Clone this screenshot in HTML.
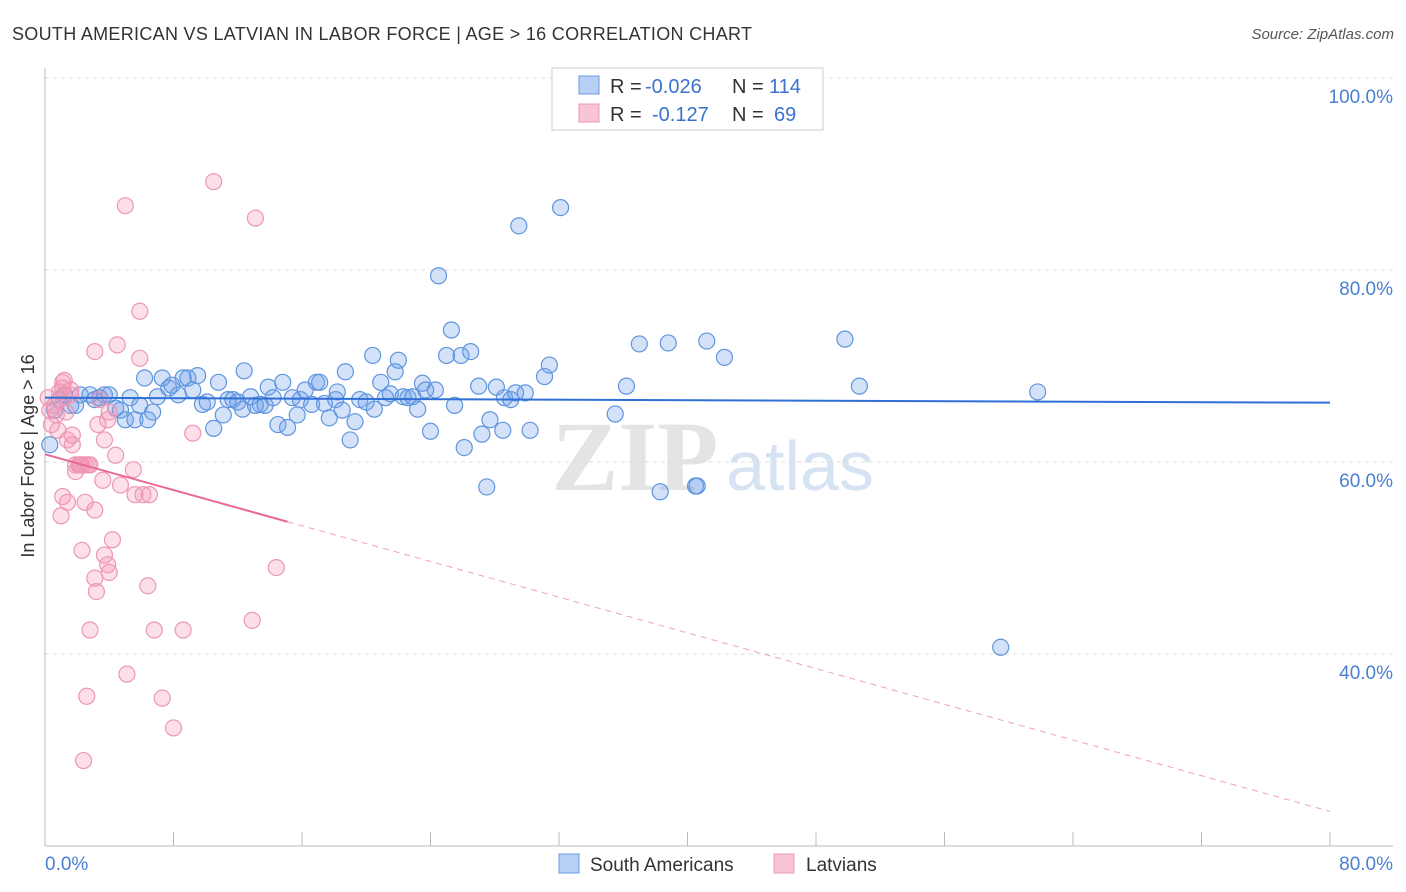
<!DOCTYPE html>
<html><head><meta charset="utf-8"><style>
body{margin:0;background:#fff;font-family:"Liberation Sans",sans-serif;}
#c{position:relative;width:1406px;height:892px;overflow:hidden}
</style></head><body><div id="c">
<svg id="s" width="1406" height="892" xmlns="http://www.w3.org/2000/svg">
<text x="12" y="40" font-size="18" fill="#333" textLength="740">SOUTH AMERICAN VS LATVIAN IN LABOR FORCE | AGE &gt; 16 CORRELATION CHART</text>
<text x="1394" y="39" font-size="15" fill="#555" font-style="italic" text-anchor="end">Source: ZipAtlas.com</text>
<text x="635" y="490" font-size="100" fill="#e4e4e4" font-family="Liberation Serif" font-weight="bold" text-anchor="middle">ZIP</text>
<text x="800" y="490" font-size="70" fill="#d6e3f3" text-anchor="middle">atlas</text>
<g id="grid"></g><g id="pts"></g><g id="trend"></g>
<text transform="translate(34,456) rotate(-90)" font-size="18" fill="#333" text-anchor="middle">In Labor Force | Age &gt; 16</text>
<text x="45" y="870" font-size="19" fill="#4a7fd4">0.0%</text>
<text x="1393" y="870" font-size="19" fill="#4a7fd4" text-anchor="end">80.0%</text>
<g>
<rect x="552" y="68" width="271" height="62" fill="#fff" stroke="#ccc"/>
<rect x="579" y="76" width="20" height="18" fill="#b8d0f3" stroke="#6a9be0"/>
<rect x="579" y="104" width="20" height="18" fill="#f9c4d4" stroke="#ec9ab5"/>
<text x="610" y="93" font-size="20" fill="#333">R =</text>
<text x="645" y="93" font-size="20" fill="#3a72d0">-0.026</text>
<text x="732" y="93" font-size="20" fill="#333">N =</text>
<text x="769" y="93" font-size="20" fill="#3a72d0">114</text>
<text x="610" y="121" font-size="20" fill="#333">R =</text>
<text x="652" y="121" font-size="20" fill="#3a72d0">-0.127</text>
<text x="732" y="121" font-size="20" fill="#333">N =</text>
<text x="774" y="121" font-size="20" fill="#3a72d0">69</text>
</g>
<g>
<rect x="559" y="854" width="20" height="19" fill="#b8d0f3" stroke="#6a9be0"/>
<text x="590" y="871" font-size="19" fill="#333">South Americans</text>
<rect x="774" y="854" width="20" height="19" fill="#f9c4d4" stroke="#ec9ab5"/>
<text x="806" y="871" font-size="19" fill="#333">Latvians</text>
</g>
</svg>
<script>
const yTicks=[100,80,60,40];
const blueX=[.3,.6,.9,1.2,1.6,1.9,2.2,2.8,3.1,3.4,3.7,4.0,4.4,4.7,5.0,5.3,5.6,5.9,6.2,6.4,6.7,7.0,7.3,7.7,7.9,8.3,8.6,8.9,9.2,9.5,9.8,10.1,10.5,10.8,11.1,11.4,11.7,12.0,12.3,12.4,12.8,13.1,13.4,13.7,13.9,14.2,14.5,14.8,15.1,15.4,15.7,15.9,16.2,16.6,16.9,17.1,17.4,17.7,18.1,18.2,18.5,18.7,19.0,19.3,19.6,20.0,20.4,20.5,20.9,21.2,21.5,21.8,22.0,22.3,22.6,22.9,23.2,23.5,23.7,24.0,24.3,24.5,25.0,25.3,25.5,25.9,26.1,26.5,27.0,27.2,27.5,27.7,28.1,28.5,28.6,29.0,29.3,29.5,29.9,30.2,31.1,31.4,32.1,35.5,36.2,37.0,38.3,38.8,40.5,40.6,41.2,42.3,49.8,50.7,59.5,61.8];
const blueY=[61.8,65.4,66.5,67.0,65.9,65.9,67.0,67.0,66.5,66.7,67.0,67.0,65.6,65.4,64.4,66.7,64.4,65.9,68.75,64.4,65.2,66.8,68.75,67.7,68.0,67.0,68.75,68.75,67.5,69.0,66.0,66.25,63.5,68.3,64.9,66.5,66.5,66.25,65.5,69.5,66.8,65.9,66.0,65.9,67.8,66.7,63.9,68.3,63.6,66.7,64.9,66.5,67.5,66.0,68.3,68.3,66.1,64.6,66.5,67.3,65.4,69.4,62.3,64.2,66.5,66.25,71.1,65.5,68.3,66.7,67.1,69.4,70.6,66.8,66.7,66.8,65.5,68.2,67.5,63.2,67.5,79.4,71.1,73.75,65.9,71.1,61.5,71.5,67.9,62.9,57.4,64.4,67.8,63.3,66.7,66.5,67.2,84.6,67.2,63.3,68.9,70.1,86.5,65.0,67.9,72.3,56.9,72.4,57.5,57.5,72.6,70.9,72.8,67.9,40.7,67.3];
const pinkX=[.2,.3,.4,.6,.7,.8,.9,1.1,1.1,1.2,1.3,1.4,1.6,1.7,1.7,1.9,1.9,2.1,2.2,2.3,2.5,2.7,2.8,3.1,3.3,3.4,3.6,3.7,3.9,4.0,4.4,4.5,4.7,5.0,5.5,5.6,5.9,5.9,6.1,6.4,6.5,6.8,7.3,8.0,8.6,9.2,10.5,12.9,13.1,14.4,1.0,1.1,1.4,2.3,2.5,3.1,3.7,3.9,4.0,4.2,3.1,3.2,2.8,2.6,2.4,5.1,1.2,1.6];
const pinkY=[66.7,65.4,63.9,65.9,64.9,63.3,67.3,67.7,68.3,66.7,65.2,62.3,67.5,61.8,62.8,59.0,59.7,59.7,59.7,59.7,59.7,59.7,59.7,71.5,63.9,66.5,58.1,62.3,64.4,65.2,60.7,72.2,57.6,86.7,59.2,56.6,75.7,70.8,56.6,47.1,56.6,42.5,35.4,32.3,42.5,63.0,89.2,43.5,85.4,49.0,54.4,56.4,55.8,50.8,55.8,55.0,50.3,49.3,48.5,51.9,47.9,46.5,42.5,35.6,28.9,37.9,68.5,67.0];
const blueTrend=[66.7,-0.0065];
const pinkTrend=[60.8,-0.465];
const pinkSolidEnd=15.1;
const NS='http://www.w3.org/2000/svg';
const X=v=>45+v*(1285/80), Y=v=>846-(v-20)*9.6;
function mk(t,a,p){const e=document.createElementNS(NS,t);for(const k in a)e.setAttribute(k,a[k]);p.appendChild(e);return e;}
const g=document.getElementById('grid');
yTicks.forEach(t=>{
 const l=mk('line',{x1:45,x2:1393,y1:Y(t),y2:Y(t),stroke:'#ddd','stroke-dasharray':'4,4'},g);
 
 
 const tx=mk('text',{x:1393,y:Y(t)+25,'font-size':19,fill:'#4a7fd4','text-anchor':'end'},g);tx.textContent=t.toFixed(1)+'%';
 
 
});
mk('line',{x1:45,x2:45,y1:68,y2:846,stroke:'#bbb'},g);
mk('line',{x1:45,x2:1393,y1:846,y2:846,stroke:'#bbb'},g);
for(let i=0;i<=10;i++){const t=mk('line',{x1:X(i*8),x2:X(i*8),y1:832,y2:846,stroke:'#bbb'},g);
 
 }
const p=document.getElementById('pts');
blueX.forEach((x,i)=>{const c=mk('circle',{cx:X(x),cy:Y(blueY[i]),r:8,fill:'rgba(110,160,235,0.3)',stroke:'#5f95dd','stroke-width':1.2},p);
 
 });
pinkX.forEach((x,i)=>{const c=mk('circle',{cx:X(x),cy:Y(pinkY[i]),r:8,fill:'rgba(245,150,180,0.3)',stroke:'#ec97b4','stroke-width':1.2},p);
 
 });
const tr=document.getElementById('trend');
const bl=mk('line',{x1:X(0),y1:Y(blueTrend[0]),x2:X(80),y2:Y(blueTrend[0]+blueTrend[1]*80),stroke:'#2f6fd6','stroke-width':2},tr);


const ps=mk('line',{x1:X(0),y1:Y(pinkTrend[0]),x2:X(pinkSolidEnd),y2:Y(pinkTrend[0]+pinkTrend[1]*pinkSolidEnd),stroke:'#e8689a','stroke-width':2},tr);


const pd=mk('line',{x1:X(pinkSolidEnd),y1:Y(pinkTrend[0]+pinkTrend[1]*pinkSolidEnd),x2:X(80),y2:Y(pinkTrend[0]+pinkTrend[1]*80),stroke:'#eea0bd','stroke-width':1,'stroke-dasharray':'6,5'},tr);


</script>
</div></body></html>
